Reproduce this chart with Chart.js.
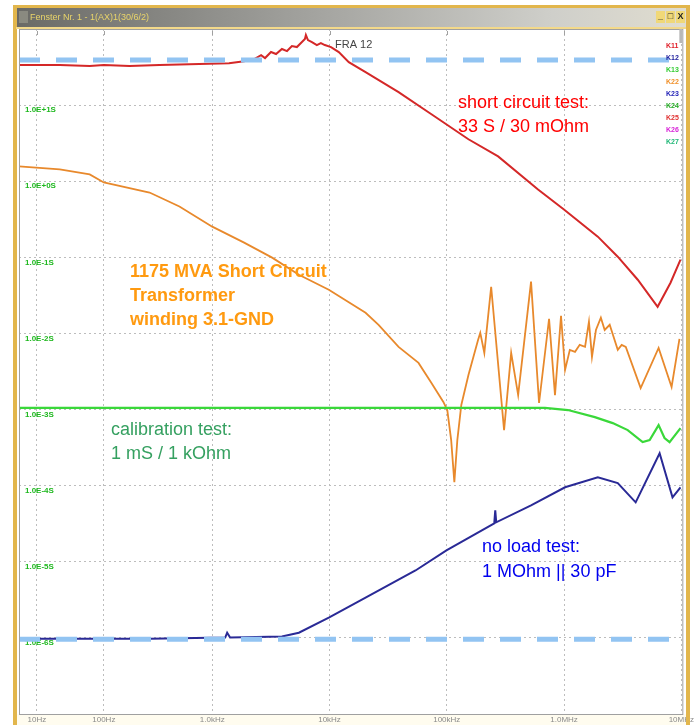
<!DOCTYPE html>
<html>
<head>
<meta charset="utf-8">
<script src="https://cdn.jsdelivr.net/npm/chart.js@4.4.1/dist/chart.umd.min.js"></script>
<style>
  html, body { margin: 0; padding: 0; background: #fff; }
  #wrap { width: 695px; height: 725px; position: relative; }
</style>
</head>
<body>
<div id="wrap"><canvas id="fra" width="695" height="725"></canvas></div>
<script>
// axis ticks (the instrument's own grid labels)
const xTickValues = [32, 119, 1000, 1e4, 1e5, 1e6, 1e7]
const xTickLabels = ['10Hz', '100Hz', '1.0kHz', '10kHz', '100kHz', '1.0MHz', '10MHz']
const yTickValues = [1e1, 1e0, 1e-1, 1e-2, 1e-3, 1e-4, 1e-5, 1e-6]
const yTickLabels = ['1.0E+1S', '1.0E+0S', '1.0E-1S', '1.0E-2S', '1.0E-3S', '1.0E-4S', '1.0E-5S', '1.0E-6S']

// short circuit test (Hz / S)
const shortFreq = [22.9, 50.1, 90.2, 119, 197, 355, 776, 1390, 1870, 2280, 2610, 2820, 3170, 3500, 3930, 4340, 4780, 5270, 5820, 6170, 6290, 6550, 7080, 7800, 8440, 9120, 10300, 12000, 14600, 20300, 38800, 74000, 153000, 274000, 600000, 998000, 1.94e6, 2.87e6, 4.25e6, 6.28e6, 8.09e6, 9.84e6]
const shortAdm = [33.6, 33.6, 32.6, 33.6, 32.6, 33.6, 34.6, 35.6, 37.8, 40.3, 45.4, 41.5, 49.8, 46.9, 54.6, 51.3, 59.7, 57.9, 67.4, 73.8, 83.4, 71.6, 67.4, 61.5, 65.4, 61.5, 57.9, 49.8, 36.7, 27.1, 14.8, 7.59, 3.56, 2.12, 0.78, 0.425, 0.187, 0.102, 0.0508, 0.0224, 0.0464, 0.0933]

// 1175 MVA transformer, winding 3.1-GND
const windingFreq = [22.5, 50.1, 90.2, 119, 292, 525, 1000, 1870, 3240, 5480, 9860, 20300, 26200, 38800, 57400, 74000, 93500, 101000, 109000, 116000, 123000, 133000, 153000, 185000, 193000, 209000, 239000, 308000, 354000, 406000, 523000, 612000, 745000, 837000, 942000, 1.02e6, 1.12e6, 1.24e6, 1.36e6, 1.51e6, 1.63e6, 1.73e6, 1.87e6, 2.06e6, 2.22e6, 2.45e6, 2.87e6, 3.10e6, 3.36e6, 4.50e6, 6.40e6, 8.26e6, 9.64e6]
const windingAdm = [1.57, 1.43, 1.23, 0.964, 0.711, 0.466, 0.253, 0.156, 0.0991, 0.0591, 0.0375, 0.0187, 0.0130, 0.00666, 0.00410, 0.00223, 0.00126, 0.000985, 0.000396, 0.000111, 0.000396, 0.00115, 0.00285, 0.00824, 0.0102, 0.00555, 0.0411, 0.000537, 0.00555, 0.00155, 0.0479, 0.00122, 0.0156, 0.00155, 0.0171, 0.00331, 0.00608, 0.00573, 0.00708, 0.00666, 0.0142, 0.00492, 0.0111, 0.0161, 0.0111, 0.0130, 0.00608, 0.00708, 0.00666, 0.00192, 0.00646, 0.00198, 0.00849]

// calibration test 1 mS / 1 kOhm
const calFreq = [22.5, 688000, 1.08e6, 1.83e6, 2.60e6, 3.49e6, 4.68e6, 5.37e6, 6.40e6, 7.19e6, 7.94e6, 9.84e6]
const calAdm = [0.00105, 0.00105, 0.000985, 0.000796, 0.000664, 0.000537, 0.000373, 0.000396, 0.000625, 0.000422, 0.000373, 0.000570]

// no load test 1 MOhm || 30 pF
const openFreq = [22.5, 292, 1290, 1340, 1420, 3930, 5480, 9860, 20300, 54100, 99300, 254000, 259000, 264000, 523000, 1.02e6, 1.94e6, 2.87e6, 4.08e6, 6.53e6, 8.41e6, 9.84e6]
const openAdm = [9.76e-7, 9.76e-7, 1.01e-6, 1.17e-6, 1.01e-6, 1.04e-6, 1.17e-6, 1.85e-6, 3.39e-6, 7.68e-6, 1.41e-5, 3.20e-5, 4.74e-5, 3.30e-5, 5.52e-5, 9.53e-5, 1.29e-4, 1.08e-4, 6.04e-5, 2.67e-4, 7.03e-5, 9.53e-5]

// expected levels (dashed markers)
const refRange = [22.5, 1e7]
const refShort = 39
const refOpen = 9.6e-7

const legendNames = ['K11', 'K12', 'K13', 'K22', 'K23', 'K24', 'K25', 'K26', 'K27']
const legendColors = ['#e0202a', '#1c1c9c', '#33cc33', '#f0902a', '#2424b8', '#22aa22', '#e03030', '#d824d8', '#22b878']

const toPoints = (xs, ys) => xs.map((x, i) => ({ x: x, y: ys[i] }))

const refLine = (level) => ({
    data: toPoints(refRange, [level, level]),
    borderColor: '#92c4f2',
    borderWidth: 5,
    borderDash: [21, 16],
    pointRadius: 0,
    borderCapStyle: 'butt'
})

const trace = (xs, ys, color, width) => ({
    data: toPoints(xs, ys),
    borderColor: color,
    borderWidth: width,
    pointRadius: 0,
    tension: 0
})

const windowFrame = {
    id: 'windowFrame',
    beforeDraw: function (chart) {
        const c = chart.ctx
        const a = chart.chartArea
        c.save()
        c.fillStyle = '#ffffff'
        c.fillRect(0, 0, chart.width, chart.height)
        c.fillStyle = '#fffcef'
        c.fillRect(17, a.bottom, 670, chart.height - a.bottom)
        c.restore()
    },
    afterDraw: function (chart) {
        const c = chart.ctx
        const a = chart.chartArea
        const xs = chart.scales.x
        c.save()

        // plot border + small top ticks
        c.strokeStyle = '#a0a0a0'
        c.lineWidth = 1
        c.strokeRect(a.left + 0.5, a.top + 0.5, a.right - a.left + 1, a.bottom - a.top)
        xTickValues.forEach(function (v) {
            const px = Math.round(xs.getPixelForValue(v)) + 0.5
            c.beginPath()
            c.moveTo(px, a.top + 2)
            c.lineTo(px, a.top + 6)
            c.stroke()
        })
        c.fillStyle = '#b8b8b8'
        c.fillRect(a.right - 2, a.top, 3, 14)

        // gold window frame
        c.fillStyle = '#e2b64c'
        c.fillRect(13, 5, 4, chart.height - 5)
        c.fillRect(686, 5, 4, chart.height - 5)
        c.fillRect(13, 5, 677, 3)
        c.fillStyle = '#f3d98a'
        c.fillRect(16, 27, 670, 2)

        // title bar
        const g = c.createLinearGradient(17, 0, 686, 0)
        g.addColorStop(0, '#6a6a66')
        g.addColorStop(0.45, '#a4a4a0')
        g.addColorStop(0.8, '#cfcfca')
        g.addColorStop(1, '#e0ddd0')
        c.fillStyle = g
        c.fillRect(17, 8, 669, 19)
        c.fillStyle = '#8a8a80'
        c.fillRect(19, 11, 9, 12)
        c.fillStyle = '#e8d46a'
        c.font = '9px "Liberation Sans", Arial, sans-serif'
        c.textBaseline = 'middle'
        c.textAlign = 'left'
        c.fillText('Fenster Nr. 1 - 1(AX)1(30/6/2)', 30, 18)
        ;['_', '\u25a1', 'X'].forEach(function (s, i) {
            const bx = 656 + i * 10
            c.fillStyle = '#f0d878'
            c.fillRect(bx, 11, 9, 12)
            c.fillStyle = '#222'
            c.font = 'bold 9px "Liberation Sans", Arial, sans-serif'
            c.textAlign = 'center'
            c.fillText(s, bx + 4.5, 17)
        })

        // channel legend
        c.font = 'bold 7px "Liberation Sans", Arial, sans-serif'
        c.textAlign = 'left'
        legendNames.forEach(function (n, i) {
            c.fillStyle = legendColors[i]
            c.fillText(n, 666, 46 + i * 12)
        })

        // annotations
        c.textBaseline = 'alphabetic'
        c.fillStyle = '#444'
        c.font = '11px "Liberation Sans", Arial, sans-serif'
        c.fillText('FRA 12', 335, 48)

        c.font = '18px "Liberation Sans", Arial, sans-serif'
        c.fillStyle = '#ff0000'
        c.fillText('short circuit test:', 458, 108)
        c.fillText('33 S / 30 mOhm', 458, 132)

        c.fillStyle = '#35a060'
        c.fillText('calibration test:', 111, 435)
        c.fillText('1 mS / 1 kOhm', 111, 459)

        c.fillStyle = '#0000ee'
        c.fillText('no load test:', 482, 552)
        c.fillText('1 MOhm || 30 pF', 482, 577)

        c.font = 'bold 18px "Liberation Sans", Arial, sans-serif'
        c.fillStyle = '#ff9a10'
        c.fillText('1175 MVA Short Circuit', 130, 277)
        c.fillText('Transformer', 130, 301)
        c.fillText('winding 3.1-GND', 130, 325)
        c.restore()
    }
}

new Chart(document.getElementById('fra'), {
    type: 'line',
    data: {
        datasets: [
            refLine(refShort),
            refLine(refOpen),
            trace(shortFreq, shortAdm, '#d42828', 2),
            trace(calFreq, calAdm, '#3ad83a', 2.2),
            trace(openFreq, openAdm, '#2a2a96', 2),
            trace(windingFreq, windingAdm, '#e8892c', 1.8)
        ]
    },
    options: {
        responsive: false,
        animation: false,
        devicePixelRatio: 1,
        layout: { padding: { left: 19, top: 29, right: 10, bottom: 0 } },
        plugins: {
            legend: { display: false },
            tooltip: { enabled: false }
        },
        scales: {
            x: {
                type: 'logarithmic',
                min: 22.5,
                max: 1e7,
                afterBuildTicks: function (s) { s.ticks = xTickValues.map(v => ({ value: v })) },
                afterFit: function (s) { s.height = 11 },
                border: { display: false, dash: [2, 3] },
                grid: { color: '#bdbdbd', drawTicks: false },
                ticks: {
                    autoSkip: false,
                    maxRotation: 0,
                    padding: 1,
                    color: '#8a8a8a',
                    font: { size: 8, family: '"Liberation Sans", Arial, sans-serif' },
                    callback: function (v, i) { return xTickLabels[i] }
                }
            },
            y: {
                type: 'logarithmic',
                min: 1e-7,
                max: 1e2,
                afterBuildTicks: function (s) { s.ticks = yTickValues.map(v => ({ value: v })) },
                afterFit: function (s) { s.width = 0 },
                border: { display: false, dash: [2, 3] },
                grid: { color: '#bdbdbd', drawTicks: false },
                ticks: {
                    mirror: true,
                    padding: 6,
                    labelOffset: 5,
                    color: '#1fb81f',
                    font: { size: 8, weight: 'bold', family: '"Liberation Sans", Arial, sans-serif' },
                    callback: function (v, i) { return yTickLabels[i] }
                }
            }
        }
    },
    plugins: [windowFrame]
})
</script>
</body>
</html>
